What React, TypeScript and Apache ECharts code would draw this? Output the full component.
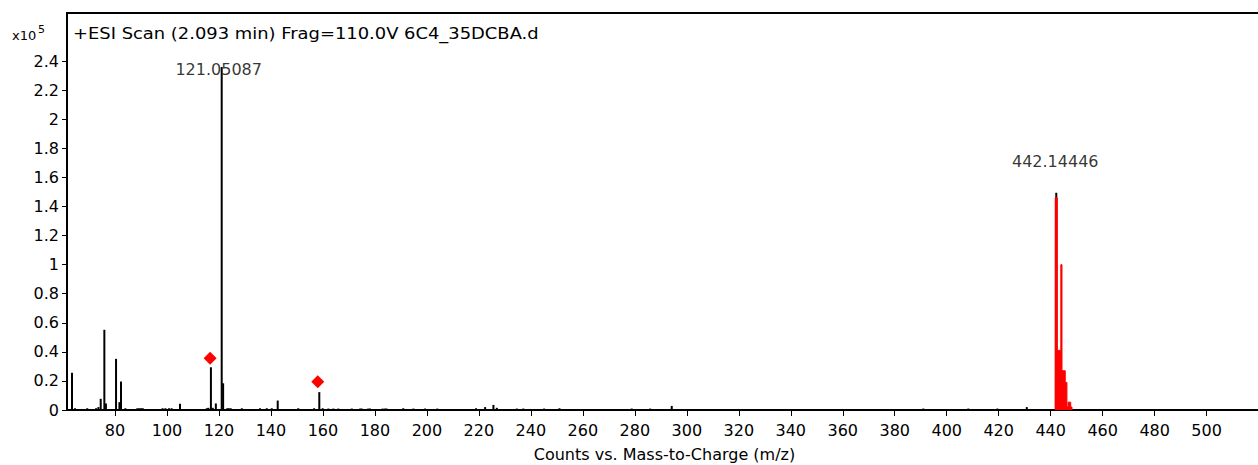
import React, { useEffect, useRef } from "react";
import * as echarts from "echarts";

// Centroid peaks (m/z, counts in units of 10^5)
const peakMz = [
  63.45, 64.6, 69.3, 72.7, 73.6, 74.5, 75.9, 76.5, 80.4, 81.7, 82.3, 84.0,
  88.6, 89.3, 90.0, 90.7, 98.3, 99.4, 100.8, 101.8, 105.0,
  115.3, 115.9, 116.9, 117.6, 118.8, 121.05087, 121.6, 123.2, 123.8, 124.5,
  128.8, 135.8, 138.4, 140.3, 142.6, 150.5, 156.6, 158.6, 159.9,
  162.1, 164.0, 165.9, 171.1, 174.3, 174.9, 177.4, 178.1, 183.0, 183.9, 184.5,
  190.9, 194.8, 199.3, 204.0, 218.9, 222.4, 225.6, 226.9, 234.6, 237.1,
  245.1, 251.0, 278.8, 285.9, 294.2, 391.0, 408.3, 419.5, 430.8, 442.14446,
];
const peakIntensity = [
  0.256, 0.012, 0.012, 0.012, 0.02, 0.077, 0.552, 0.045, 0.352, 0.054, 0.196, 0.012,
  0.012, 0.012, 0.012, 0.012, 0.012, 0.012, 0.012, 0.012, 0.043,
  0.012, 0.015, 0.294, 0.015, 0.045, 2.36, 0.184, 0.012, 0.012, 0.012,
  0.012, 0.012, 0.012, 0.012, 0.065, 0.012, 0.012, 0.123, 0.012,
  0.01, 0.01, 0.01, 0.01, 0.01, 0.01, 0.01, 0.01, 0.01, 0.01, 0.01,
  0.012, 0.01, 0.01, 0.01, 0.012, 0.02, 0.035, 0.015, 0.01, 0.01,
  0.01, 0.012, 0.01, 0.01, 0.028, 0.01, 0.01, 0.01, 0.02, 1.495,
];

// Red isotope profile (step levels)
const profileMz = [441.7, 441.75, 442.55, 443.9, 444.35, 445.6, 446.25, 446.7, 447.7, 448.2];
const profileIntensity = [0, 1.46, 0.41, 1.0, 0.27, 0.19, 0.02, 0.054, 0.02, 0];

// Red diamond markers
const markerMz = [116.6, 158.0];
const markerIntensity = [0.356, 0.195];

// Peak annotations
const annotationMz = [121.05087, 442.14446];
const annotationIntensity = [2.36, 1.495];
const annotationText = ["121.05087", "442.14446"];

const xTickValues = [80, 100, 120, 140, 160, 180, 200, 220, 240, 260, 280, 300, 320, 340, 360, 380, 400, 420, 440, 460, 480, 500, 520];
const xLabelValues = [80, 100, 120, 140, 160, 180, 200, 220, 240, 260, 280, 300, 320, 340, 360, 380, 400, 420, 440, 460, 480, 500];
const yTickValues = [0, 0.2, 0.4, 0.6, 0.8, 1, 1.2, 1.4, 1.6, 1.8, 2, 2.2, 2.4];

const titleText = "+ESI Scan (2.093 min) Frag=110.0V 6C4_35DCBA.d";
const xAxisTitle = "Counts vs. Mass-to-Charge (m/z)";
const yScaleText = "x10";
const yScaleExp = "5";

const FONT = "'DejaVu Sans', sans-serif";

export default function App() {
  const ref = useRef<HTMLDivElement>(null);
  useEffect(() => {
    if (!ref.current) return;
    const chart = echarts.init(ref.current, undefined, { renderer: "svg" });
    const peaks = peakMz.map((m, i) => [m, peakIntensity[i]]);
    const profile = profileMz.map((m, i) => [m, profileIntensity[i]]);
    const markers = markerMz.map((m, i) => [m, markerIntensity[i]]);
    const annOffsets = [[-3, 2], [-1, -31]];
    const annotations = annotationMz.map((m, i) => ({
      value: [m, annotationIntensity[i]],
      label: { offset: annOffsets[i], formatter: annotationText[i] },
    }));
    chart.setOption({
      animation: false,
      backgroundColor: "#ffffff",
      grid: {
        left: 67, top: 13, right: 8, bottom: 55,
        containLabel: false,
        outerBoundsMode: "none",
        show: true, borderColor: "#000", borderWidth: 2, backgroundColor: "transparent",
      },
      xAxis: {
        type: "value",
        min: 61.53,
        max: 521.3,
        splitLine: { show: false },
        axisLine: { lineStyle: { color: "#000", width: 2 } },
        axisTick: { customValues: xTickValues, length: 6, lineStyle: { color: "#000", width: 1 } },
        axisLabel: {
          customValues: xLabelValues,
          color: "#000", fontSize: 16, fontFamily: FONT, margin: 12,
          formatter: (v: number) => String(Math.round(v)),
        },
        name: xAxisTitle,
        nameLocation: "middle",
        nameGap: 36,
        nameTextStyle: { color: "#000", fontSize: 16, fontFamily: FONT },
      },
      yAxis: {
        type: "value",
        min: 0,
        max: 2.732,
        splitLine: { show: false },
        axisLine: { show: true, lineStyle: { color: "#000", width: 2 } },
        axisTick: { show: true, customValues: yTickValues, length: 5, lineStyle: { color: "#000", width: 1 } },
        axisLabel: {
          customValues: yTickValues,
          color: "#000", fontSize: 16, fontFamily: FONT, margin: 8,
          formatter: (v: number) => String(+v.toFixed(1)),
        },
      },
      graphic: [
        { type: "text", x: 73, y: 33, scaleX: 1.12, style: { text: titleText, font: `16px ${FONT}`, fill: "#000", verticalAlign: "middle", align: "left" } },
        { type: "text", x: 12, y: 35, style: { text: yScaleText, font: `13px ${FONT}`, fill: "#000", verticalAlign: "middle", align: "left" } },
        { type: "text", x: 38, y: 29, style: { text: yScaleExp, font: `11px ${FONT}`, fill: "#000", verticalAlign: "middle", align: "left" } },
      ],
      series: [
        {
          type: "custom",
          name: "peaks",
          data: peaks,
          encode: { x: 0, y: 1 },
          clip: true,
          renderItem: (params: any, api: any) => {
            const x = api.value(0);
            const y = api.value(1);
            const top = api.coord([x, y]);
            const base = api.coord([x, 0]);
            return {
              type: "rect",
              shape: { x: top[0] - 1, y: top[1], width: 2, height: Math.max(1.5, base[1] - top[1]) },
              style: { fill: "#000" },
            };
          },
          z: 2,
        },
        {
          type: "line",
          name: "profile",
          data: profile,
          step: "end",
          symbol: "none",
          lineStyle: { color: "#ff0000", width: 1 },
          areaStyle: { color: "#ff0000", opacity: 1 },
          z: 3,
        },
        {
          type: "scatter",
          name: "markers",
          data: markers,
          symbol: "diamond",
          symbolSize: 13,
          itemStyle: { color: "#ff0000", opacity: 1 },
          z: 4,
        },
        {
          type: "scatter",
          name: "annotations",
          data: annotations,
          symbolSize: 0,
          label: {
            show: true, position: "inside", color: "#000", fontSize: 16, fontFamily: FONT,
          },
          z: 5,
        },
      ],
    });
    return () => chart.dispose();
  }, []);
  return <div ref={ref} style={{ position: "fixed", left: 0, top: 0, width: 1270, height: 465, background: "#fff" }} />;
}
